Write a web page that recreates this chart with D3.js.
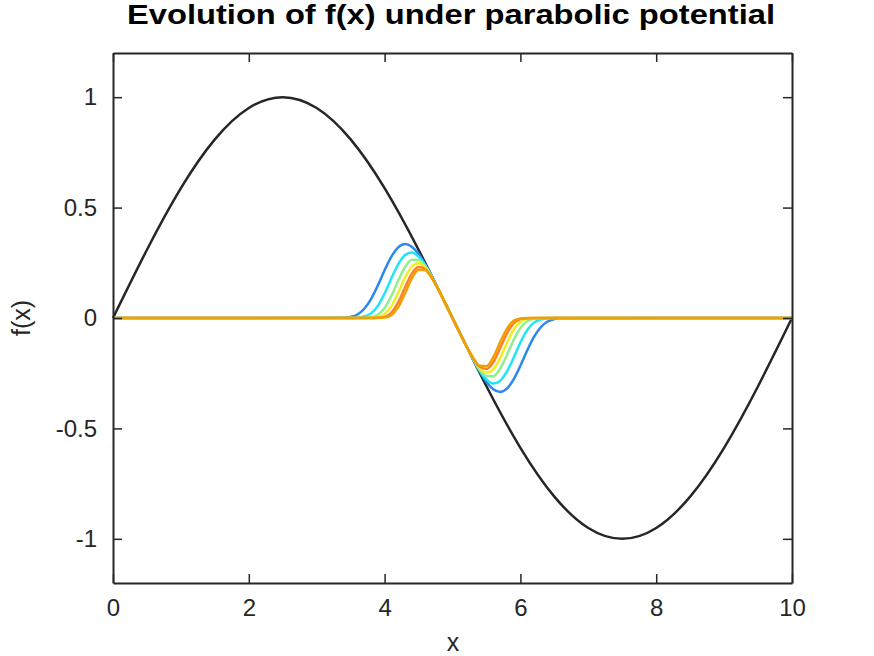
<!DOCTYPE html>
<html><head><meta charset="utf-8">
<script src="https://cdn.jsdelivr.net/npm/d3@7"></script>
<style>body{margin:0;background:#fff}text{font-family:"Liberation Sans",Arial,sans-serif}</style>
</head><body><svg id="c" width="874" height="656"></svg>
<script>
const xTicks=[0,2,4,6,8,10];
const yTicks=[-1,-0.5,0,0.5,1];
const xBlack=[0,0.5,1,1.5,2,2.5,3,3.5,4,4.5,5,5.5,6,6.5,7,7.5,8,8.5,9,9.5,10];
const yBlack=[0,0.309,0.588,0.809,0.951,1,0.951,0.809,0.588,0.309,0,-0.309,-0.588,-0.809,-0.951,-1,-0.951,-0.809,-0.588,-0.309,0];
const xGrid=[0,3.4,3.5,3.6,3.7,3.8,3.9,4.0,4.1,4.2,4.3,4.4,4.5,4.6,4.7,4.8,4.9,5.0,5.1,5.2,5.3,5.4,5.5,5.6,5.7,5.8,5.9,6.0,6.1,6.2,6.3,6.4,6.5,6.6,10];
const blue=[0,.001,.005,.016,.042,.086,.147,.216,.278,.320,.335,.323,.290,.242,.186,.125,.063,0,-.063,-.125,-.186,-.242,-.290,-.323,-.335,-.320,-.278,-.216,-.147,-.086,-.042,-.016,-.005,-.001,0];
const cyan=[0,0,0,.001,.007,.021,.055,.111,.180,.243,.285,.297,.278,.238,.185,.125,.063,0,-.063,-.125,-.185,-.238,-.278,-.297,-.285,-.243,-.180,-.111,-.055,-.021,-.007,-.001,0,0,0];
const green=[0,0,0,0,.001,.003,.015,.045,.100,.169,.230,.264,.263,.233,.183,.125,.063,0,-.063,-.125,-.183,-.233,-.263,-.264,-.230,-.169,-.100,-.045,-.015,-.003,-.001,0,0,0,0];
const yellow=[0,0,0,0,0,.001,.004,.018,.053,.114,.183,.233,.248,.227,.182,.125,.063,0,-.063,-.125,-.182,-.227,-.248,-.233,-.183,-.114,-.053,-.018,-.004,-.001,0,0,0,0,0];
const redOrange=[0,0,0,0,0,0,.001,.005,.025,.071,.138,.201,.231,.221,.180,.124,.063,0,-.063,-.124,-.180,-.221,-.231,-.201,-.138,-.071,-.025,-.005,-.001,0,0,0,0,0,0];
const orange=[0,0,0,0,0,0,0,.002,.013,.049,.111,.178,.218,.216,.179,.124,.063,0,-.063,-.124,-.179,-.216,-.218,-.178,-.111,-.049,-.013,-.002,0,0,0,0,0,0,0];
const series=[[blue,"#2a88f0"],[cyan,"#1ee6f5"],[green,"#90f090"],[yellow,"#f0f020"],[redOrange,"#ff7f2a"],[orange,"#f0a000"]];

const svg=d3.select("#c");
const L=113,R=792,T=53,B=583;
const x=d3.scaleLinear().domain([0,10]).range([L,R]);
const y=d3.scaleLinear().domain([-1.2,1.2]).range([B,T]);
const g=svg.append("g");
const line=(xs,ys,curve)=>d3.line().x((d,i)=>x(xs[i])).y(d=>y(d)).curve(curve)(ys);
g.append("path").attr("d",line(xBlack,yBlack,d3.curveNatural)).attr("fill","none").attr("stroke","#262626").attr("stroke-width",2.5);
series.forEach(([ys,c])=>g.append("path").attr("d",line(xGrid,ys,d3.curveMonotoneX)).attr("fill","none").attr("stroke",c).attr("stroke-width",2.5));

const ax=(a,tr)=>svg.append("g").attr("transform",tr).call(a);
const st=s=>{s.select(".domain").attr("stroke","#262626").attr("stroke-width",2);s.selectAll("line").attr("stroke","#262626").attr("stroke-width",1.5);s.selectAll("text").attr("font-size",24).attr("fill","#262626");};
ax(d3.axisBottom(x).tickValues(xTicks).tickSizeInner(-9).tickSizeOuter(0).tickPadding(16).tickFormat(d3.format("")),`translate(0,${B})`).call(st);
ax(d3.axisTop(x).tickValues(xTicks).tickSizeInner(-9).tickSizeOuter(0).tickFormat(""),`translate(0,${T})`).call(st);
ax(d3.axisLeft(y).tickValues(yTicks).tickSizeInner(-9).tickSizeOuter(0).tickPadding(16).tickFormat(d=>String(d)),`translate(${L},0)`).call(st);
ax(d3.axisRight(y).tickValues(yTicks).tickSizeInner(-9).tickSizeOuter(0).tickFormat(""),`translate(${R},0)`).call(st);

svg.append("text").attr("x",451).attr("y",24).attr("text-anchor","middle").attr("font-size",27).attr("font-weight","bold").attr("fill","#000").attr("textLength",648).attr("lengthAdjust","spacingAndGlyphs").text("Evolution of f(x) under parabolic potential");
svg.append("text").attr("x",453).attr("y",651).attr("text-anchor","middle").attr("font-size",25).attr("fill","#262626").text("x");
svg.append("text").attr("transform","translate(30,318) rotate(-90)").attr("text-anchor","middle").attr("font-size",25).attr("fill","#262626").text("f(x)");
</script></body></html>
